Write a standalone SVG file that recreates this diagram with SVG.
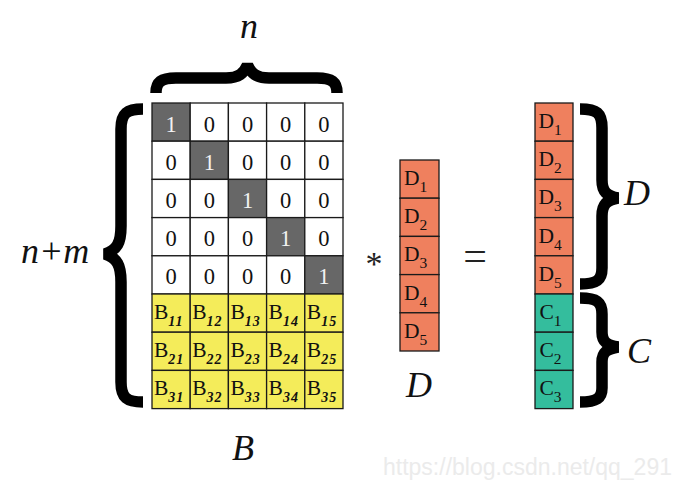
<svg xmlns="http://www.w3.org/2000/svg" width="684" height="483" viewBox="0 0 684 483">
<style>
.cell{stroke:#1a1a1a;stroke-width:1.3}
.w{fill:#ffffff}
.g{fill:#676767}
.y{fill:#f4ec5a}
.s{fill:#ef805e}
.t{fill:#34bd9d}
.num{font-family:"Liberation Serif","Times New Roman",serif;font-size:22.5px;text-anchor:middle;fill:#111}
.one{fill:#f2f2f2}
.bt{font-family:"Liberation Serif","Times New Roman",serif;font-size:21.5px;fill:#111}
.bsub{font-style:italic;font-weight:bold;font-size:14px;letter-spacing:1px}
.dsub{font-size:15.5px}
.lab{font-family:"Liberation Serif","Times New Roman",serif;font-size:36px;font-style:italic;fill:#111}
.op{font-family:"Liberation Serif","Times New Roman",serif;fill:#222;text-anchor:middle}
.brace{fill:none;stroke:#000;stroke-width:11.5;stroke-linejoin:bevel}
.wm{font-family:"Liberation Sans",Arial,sans-serif;font-size:23px;fill:#ebebeb}
</style>

<g id="matrix">
  <g id="identity">
    <rect class="cell g" x="152" y="103" width="38.2" height="38.2"/>
    <rect class="cell w" x="190.2" y="103" width="38.2" height="38.2"/>
    <rect class="cell w" x="228.4" y="103" width="38.2" height="38.2"/>
    <rect class="cell w" x="266.6" y="103" width="38.2" height="38.2"/>
    <rect class="cell w" x="304.8" y="103" width="38.2" height="38.2"/>

    <rect class="cell w" x="152" y="141.2" width="38.2" height="38.2"/>
    <rect class="cell g" x="190.2" y="141.2" width="38.2" height="38.2"/>
    <rect class="cell w" x="228.4" y="141.2" width="38.2" height="38.2"/>
    <rect class="cell w" x="266.6" y="141.2" width="38.2" height="38.2"/>
    <rect class="cell w" x="304.8" y="141.2" width="38.2" height="38.2"/>

    <rect class="cell w" x="152" y="179.4" width="38.2" height="38.2"/>
    <rect class="cell w" x="190.2" y="179.4" width="38.2" height="38.2"/>
    <rect class="cell g" x="228.4" y="179.4" width="38.2" height="38.2"/>
    <rect class="cell w" x="266.6" y="179.4" width="38.2" height="38.2"/>
    <rect class="cell w" x="304.8" y="179.4" width="38.2" height="38.2"/>

    <rect class="cell w" x="152" y="217.6" width="38.2" height="38.2"/>
    <rect class="cell w" x="190.2" y="217.6" width="38.2" height="38.2"/>
    <rect class="cell w" x="228.4" y="217.6" width="38.2" height="38.2"/>
    <rect class="cell g" x="266.6" y="217.6" width="38.2" height="38.2"/>
    <rect class="cell w" x="304.8" y="217.6" width="38.2" height="38.2"/>

    <rect class="cell w" x="152" y="255.8" width="38.2" height="38.2"/>
    <rect class="cell w" x="190.2" y="255.8" width="38.2" height="38.2"/>
    <rect class="cell w" x="228.4" y="255.8" width="38.2" height="38.2"/>
    <rect class="cell w" x="266.6" y="255.8" width="38.2" height="38.2"/>
    <rect class="cell g" x="304.8" y="255.8" width="38.2" height="38.2"/>

    <text class="num one" x="171.1" y="131.5">1</text>
    <text class="num" x="209.3" y="131.5">0</text>
    <text class="num" x="247.5" y="131.5">0</text>
    <text class="num" x="285.7" y="131.5">0</text>
    <text class="num" x="323.9" y="131.5">0</text>

    <text class="num" x="171.1" y="169.7">0</text>
    <text class="num one" x="209.3" y="169.7">1</text>
    <text class="num" x="247.5" y="169.7">0</text>
    <text class="num" x="285.7" y="169.7">0</text>
    <text class="num" x="323.9" y="169.7">0</text>

    <text class="num" x="171.1" y="207.9">0</text>
    <text class="num" x="209.3" y="207.9">0</text>
    <text class="num one" x="247.5" y="207.9">1</text>
    <text class="num" x="285.7" y="207.9">0</text>
    <text class="num" x="323.9" y="207.9">0</text>

    <text class="num" x="171.1" y="246.1">0</text>
    <text class="num" x="209.3" y="246.1">0</text>
    <text class="num" x="247.5" y="246.1">0</text>
    <text class="num one" x="285.7" y="246.1">1</text>
    <text class="num" x="323.9" y="246.1">0</text>

    <text class="num" x="171.1" y="284.3">0</text>
    <text class="num" x="209.3" y="284.3">0</text>
    <text class="num" x="247.5" y="284.3">0</text>
    <text class="num" x="285.7" y="284.3">0</text>
    <text class="num one" x="323.9" y="284.3">1</text>
  </g>
  <g id="B-block">
    <rect class="cell y" x="152" y="294" width="38.2" height="38.2"/>
    <rect class="cell y" x="190.2" y="294" width="38.2" height="38.2"/>
    <rect class="cell y" x="228.4" y="294" width="38.2" height="38.2"/>
    <rect class="cell y" x="266.6" y="294" width="38.2" height="38.2"/>
    <rect class="cell y" x="304.8" y="294" width="38.2" height="38.2"/>
    <rect class="cell y" x="152" y="332.2" width="38.2" height="38.2"/>
    <rect class="cell y" x="190.2" y="332.2" width="38.2" height="38.2"/>
    <rect class="cell y" x="228.4" y="332.2" width="38.2" height="38.2"/>
    <rect class="cell y" x="266.6" y="332.2" width="38.2" height="38.2"/>
    <rect class="cell y" x="304.8" y="332.2" width="38.2" height="38.2"/>
    <rect class="cell y" x="152" y="370.4" width="38.2" height="38.2"/>
    <rect class="cell y" x="190.2" y="370.4" width="38.2" height="38.2"/>
    <rect class="cell y" x="228.4" y="370.4" width="38.2" height="38.2"/>
    <rect class="cell y" x="266.6" y="370.4" width="38.2" height="38.2"/>
    <rect class="cell y" x="304.8" y="370.4" width="38.2" height="38.2"/>

    <text class="bt" x="154" y="319">B<tspan class="bsub" dy="7">11</tspan></text>
    <text class="bt" x="192.2" y="319">B<tspan class="bsub" dy="7">12</tspan></text>
    <text class="bt" x="230.4" y="319">B<tspan class="bsub" dy="7">13</tspan></text>
    <text class="bt" x="268.6" y="319">B<tspan class="bsub" dy="7">14</tspan></text>
    <text class="bt" x="306.8" y="319">B<tspan class="bsub" dy="7">15</tspan></text>
    <text class="bt" x="154" y="357.2">B<tspan class="bsub" dy="7">21</tspan></text>
    <text class="bt" x="192.2" y="357.2">B<tspan class="bsub" dy="7">22</tspan></text>
    <text class="bt" x="230.4" y="357.2">B<tspan class="bsub" dy="7">23</tspan></text>
    <text class="bt" x="268.6" y="357.2">B<tspan class="bsub" dy="7">24</tspan></text>
    <text class="bt" x="306.8" y="357.2">B<tspan class="bsub" dy="7">25</tspan></text>
    <text class="bt" x="154" y="395.4">B<tspan class="bsub" dy="7">31</tspan></text>
    <text class="bt" x="192.2" y="395.4">B<tspan class="bsub" dy="7">32</tspan></text>
    <text class="bt" x="230.4" y="395.4">B<tspan class="bsub" dy="7">33</tspan></text>
    <text class="bt" x="268.6" y="395.4">B<tspan class="bsub" dy="7">34</tspan></text>
    <text class="bt" x="306.8" y="395.4">B<tspan class="bsub" dy="7">35</tspan></text>
  </g>
</g>

<g id="vector-D">
  <rect class="cell s" x="400" y="160" width="39" height="38.2"/>
  <rect class="cell s" x="400" y="198.2" width="39" height="38.2"/>
  <rect class="cell s" x="400" y="236.4" width="39" height="38.2"/>
  <rect class="cell s" x="400" y="274.6" width="39" height="38.2"/>
  <rect class="cell s" x="400" y="312.8" width="39" height="38.2"/>
  <text class="bt" x="404" y="185">D<tspan class="dsub" dy="7">1</tspan></text>
  <text class="bt" x="404" y="223.2">D<tspan class="dsub" dy="7">2</tspan></text>
  <text class="bt" x="404" y="261.4">D<tspan class="dsub" dy="7">3</tspan></text>
  <text class="bt" x="404" y="299.6">D<tspan class="dsub" dy="7">4</tspan></text>
  <text class="bt" x="404" y="337.8">D<tspan class="dsub" dy="7">5</tspan></text>
</g>

<g id="vector-result">
  <rect class="cell s" x="535" y="103" width="38" height="38.2"/>
  <rect class="cell s" x="535" y="141.2" width="38" height="38.2"/>
  <rect class="cell s" x="535" y="179.4" width="38" height="38.2"/>
  <rect class="cell s" x="535" y="217.6" width="38" height="38.2"/>
  <rect class="cell s" x="535" y="255.8" width="38" height="38.2"/>
  <rect class="cell t" x="535" y="294" width="38" height="38.2"/>
  <rect class="cell t" x="535" y="332.2" width="38" height="38.2"/>
  <rect class="cell t" x="535" y="370.4" width="38" height="38.2"/>
  <text class="bt" x="538.5" y="128">D<tspan class="dsub" dy="7">1</tspan></text>
  <text class="bt" x="538.5" y="166.2">D<tspan class="dsub" dy="7">2</tspan></text>
  <text class="bt" x="538.5" y="204.4">D<tspan class="dsub" dy="7">3</tspan></text>
  <text class="bt" x="538.5" y="242.6">D<tspan class="dsub" dy="7">4</tspan></text>
  <text class="bt" x="538.5" y="280.8">D<tspan class="dsub" dy="7">5</tspan></text>
  <text class="bt" x="539.5" y="319">C<tspan class="dsub" dy="7">1</tspan></text>
  <text class="bt" x="539.5" y="357.2">C<tspan class="dsub" dy="7">2</tspan></text>
  <text class="bt" x="539.5" y="395.4">C<tspan class="dsub" dy="7">3</tspan></text>
</g>

<g id="braces">
  <path id="brace-n" class="brace" d="M156,93 C156,82 161,78 176,78 L226,78 C239,78 244,73 247.5,65 C251,73 256,78 269,78 L317,78 C332,78 337,82 337,93"/>
  <path id="brace-nm" class="brace" d="M143,109 C127,109 121,113 121,129 L121,226 C121,243 117,250 105,254 C117,258 121,265 121,282 L121,382 C121,398 127,402 143,402"/>
  <path id="brace-D" class="brace" d="M580,109 C597,109 602,113 602,128 L602,180 C602,192 607,196 618,198 C607,200 602,204 602,216 L602,268 C602,280 597,284 580,284"/>
  <path id="brace-C" class="brace" d="M580,298 C597,298 602,302 602,314 L602,332 C602,342 607,345 618,347 C607,349 602,352 602,362 L602,388 C602,398 597,402 580,402"/>
</g>

<g id="labels">
  <text class="lab" x="249" y="38" text-anchor="middle">n</text>
  <text class="lab" x="21" y="263">n+m</text>
  <text class="lab" x="243" y="460" text-anchor="middle">B</text>
  <text class="lab" x="419" y="397" text-anchor="middle">D</text>
  <text class="lab" x="624" y="205">D</text>
  <text class="lab" x="627" y="363">C</text>
  <text class="op" x="374" y="275" font-size="34">*</text>
  <text class="op" x="475" y="270" font-size="42">=</text>
</g>

<text class="wm" x="383" y="475">https://blog.csdn.net/qq_291</text>
</svg>
